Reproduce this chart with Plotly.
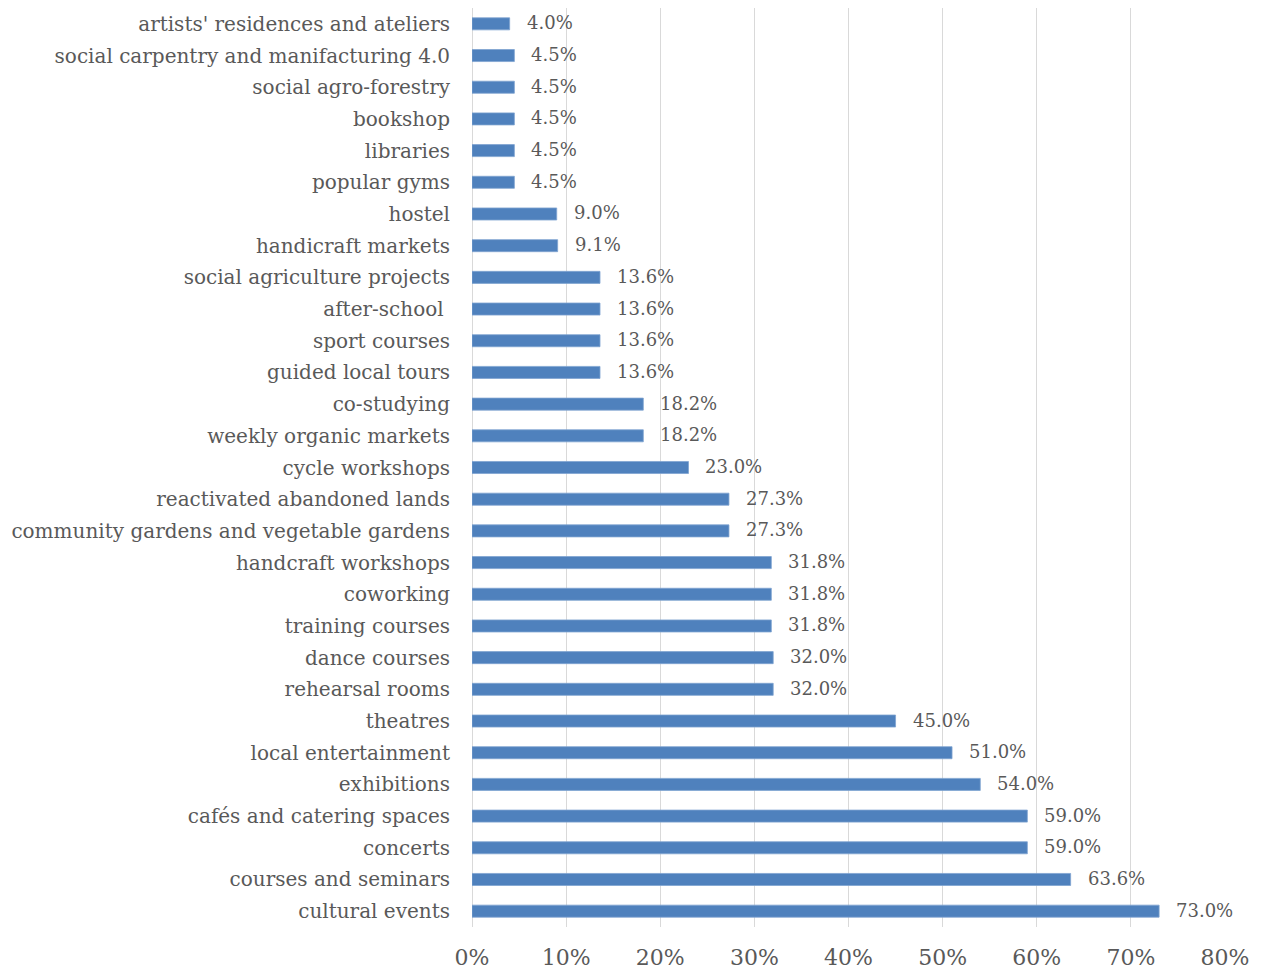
import plotly.graph_objects as go

categories = [
    "artists' residences and ateliers",
    "social carpentry and manifacturing 4.0",
    "social agro-forestry",
    "bookshop",
    "libraries",
    "popular gyms",
    "hostel",
    "handicraft markets",
    "social agriculture projects",
    "after-school ",
    "sport courses",
    "guided local tours",
    "co-studying",
    "weekly organic markets",
    "cycle workshops",
    "reactivated abandoned lands",
    "community gardens and vegetable gardens",
    "handcraft workshops",
    "coworking",
    "training courses",
    "dance courses",
    "rehearsal rooms",
    "theatres",
    "local entertainment",
    "exhibitions",
    "cafés and catering spaces",
    "concerts",
    "courses and seminars",
    "cultural events",
]
values = [4.0, 4.5, 4.5, 4.5, 4.5, 4.5, 9.0, 9.1, 13.6, 13.6, 13.6, 13.6, 18.2, 18.2,
          23.0, 27.3, 27.3, 31.8, 31.8, 31.8, 32.0, 32.0, 45.0, 51.0, 54.0, 59.0, 59.0,
          63.6, 73.0]
tick_vals = [0, 10, 20, 30, 40, 50, 60, 70, 80]
tick_text = ["0%", "10%", "20%", "30%", "40%", "50%", "60%", "70%", "80%"]

FONT = "DejaVu Serif"
GRAY = "#595959"

fig = go.Figure()
fig.add_trace(go.Bar(
    x=values, y=categories, orientation="h",
    marker=dict(color="#4F81BD", line=dict(color="#7FA3D1", width=0.8)),
    hoverinfo="x+y",
))
for c, v in zip(categories, values):
    fig.add_annotation(x=v, y=c, text=f"{v:.1f}%", showarrow=False,
                       xanchor="left", xshift=15, yshift=1,
                       font=dict(family=FONT, size=18, color=GRAY))

fig.update_layout(
    width=1258, height=964,
    margin=dict(l=464, r=41, t=0, b=45),
    paper_bgcolor="white", plot_bgcolor="white",
    bargap=0.62, showlegend=False,
    font=dict(family=FONT, size=18, color=GRAY),
)
fig.update_xaxes(range=[0, 80], tickvals=tick_vals, ticktext=tick_text,
                 showgrid=True, gridcolor="#D9D9D9", gridwidth=1.2,
                 zeroline=True, zerolinecolor="#D9D9D9", zerolinewidth=1.2,
                 showline=False, ticklabelstandoff=15, automargin=False,
                 tickfont=dict(family=FONT, size=22, color=GRAY))
fig.update_yaxes(autorange="reversed", showgrid=False, showline=False,
                 ticklabelstandoff=21, automargin=False,
                 tickfont=dict(family=FONT, size=20, color=GRAY))

fig.write_html("out.html")
